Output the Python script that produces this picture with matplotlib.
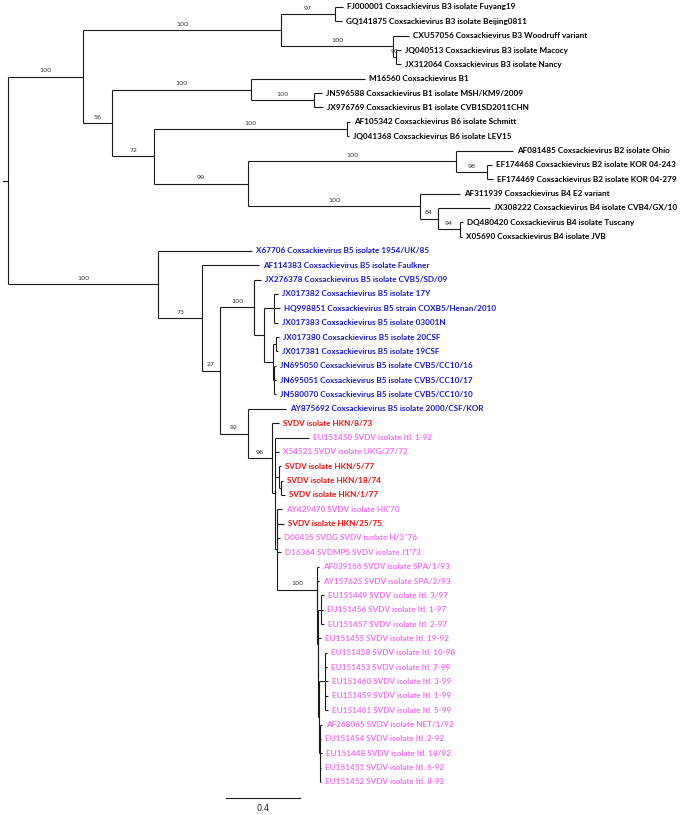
import re
import matplotlib
matplotlib.use("Agg")
import matplotlib.pyplot as plt

# ---------------- data ----------------
labels = [
    "FJ000001 Coxsackievirus B3 isolate Fuyang19",
    "GQ141875 Coxsackievirus B3 isolate Beijing0811",
    "CXU57056 Coxsackievirus B3 Woodruff variant",
    "JQ040513 Coxsackievirus B3 isolate Macocy",
    "JX312064 Coxsackievirus B3 isolate Nancy",
    "M16560 Coxsackievirus B1",
    "JN596588 Coxsackievirus B1 isolate MSH/KM9/2009",
    "JX976769 Coxsackievirus B1 isolate CVB1SD2011CHN",
    "AF105342 Coxsackievirus B6 isolate Schmitt",
    "JQ041368 Coxsackievirus B6 isolate LEV15",
    "AF081485 Coxsackievirus B2 isolate Ohio",
    "EF174468 Coxsackievirus B2 isolate KOR 04-243",
    "EF174469 Coxsackievirus B2 isolate KOR 04-279",
    "AF311939 Coxsackievirus B4 E2 variant",
    "JX308222 Coxsackievirus B4 isolate CVB4/GX/10",
    "DQ480420 Coxsackievirus B4 isolate Tuscany",
    "X05690 Coxsackievirus B4 isolate JVB",
    "X67706 Coxsackievirus B5 isolate 1954/UK/85",
    "AF114383 Coxsackievirus B5 isolate Faulkner",
    "JX276378 Coxsackievirus B5 isolate CVB5/SD/09",
    "JX017382 Coxsackievirus B5 isolate 17Y",
    "HQ998851 Coxsackievirus B5 strain COXB5/Henan/2010",
    "JX017383 Coxsackievirus B5 isolate 03001N",
    "JX017380 Coxsackievirus B5 isolate 20CSF",
    "JX017381 Coxsackievirus B5 isolate 19CSF",
    "JN695050 Coxsackievirus B5 isolate CVB5/CC10/16",
    "JN695051 Coxsackievirus B5 isolate CVB5/CC10/17",
    "JN580070 Coxsackievirus B5 isolate CVB5/CC10/10",
    "AY875692 Coxsackievirus B5 isolate 2000/CSF/KOR",
    "SVDV isolate HKN/8/73",
    "EU151450 SVDV isolate Itl. 1-92",
    "X54521 SVDV isolate UKG/27/72",
    "SVDV isolate HKN/5/77",
    "SVDV isolate HKN/18/74",
    "SVDV isolate HKN/1/77",
    "AY429470 SVDV isolate HK'70",
    "SVDV isolate HKN/25/75",
    "D00435 SVDG SVDV isolate H/3 '76",
    "D16364 SVDMPS SVDV isolate J1'73",
    "AF039166 SVDV isolate SPA/1/93",
    "AY157625 SVDV isolate SPA/2/93",
    "EU151449 SVDV isolate Itl. 3/97",
    "EU151456 SVDV isolate Itl. 1-97",
    "EU151457 SVDV isolate Itl. 2-97",
    "EU151455 SVDV isolate Itl. 19-92",
    "EU151458 SVDV isolate Itl. 10-98",
    "EU151453 SVDV isolate Itl. 7-99",
    "EU151460 SVDV isolate Itl. 3-99",
    "EU151459 SVDV isolate Itl. 1-99",
    "EU151461 SVDV isolate Itl. 5-99",
    "AF268065 SVDV isolate NET/1/92",
    "EU151454 SVDV isolate Itl. 2-92",
    "EU151448 SVDV isolate Itl. 18/92",
    "EU151451 SVDV isolate Itl. 6-92",
    "EU151452 SVDV isolate Itl. 8-92",
]
# k = other CVB, b = CVB5, r = SVDV HKN, p = other SVDV
groups = (["k"] * 17 + ["b"] * 12 + ["r", "p", "p", "r", "r", "r", "p", "r"]
          + ["p"] * 18)

# clades in Newick form (leaf names = index into labels, internal label = bootstrap)
clade_b3 = ("((0:0.0432,1:0.0378)97:0.2919,"
            "(2:0.0865,(3:0.027,4:0.027)91:0.0162)100:0.6054)100:1.0703")
clade_b1 = "(5:0.6162,(6:0.0432,7:0.0486)100:0.3405)100:0.7514"
clade_b6 = "(8:0.0162,9:0.0108)100:1.0432"
clade_b2 = "(10:0.3081,(11:0.027,12:0.0324)98:0.1676)100:1.1243"
clade_b4 = "(13:0.2162,(14:0.2811,(15:0.0162,16:0.0108)94:0.1189)84:0.0973)100:0.9297"
clade_b5 = ("(19:0.0378,((20:0.0216,21:0.0324,22:0.0216):0.0541,"
            "((23:0.0162,24:0.0108):0.0162,(25:0.0108,26:0.0108,27:0.0108):0.0054):0.0486)"
            ":0.0541)100:0.1838")
clade_spa_itl = ("(39:0.0108,(40:0.0081,((41:0.0162,42:0.0108,43:0.0162):0.0162,"
                 "(44:0.0135,((45:0.0108,46:0.0108,47:0.0162,48:0.0162,49:0.0162):0.0324,"
                 "(50:0.0108,51:0.0054,52:0.0108,53:0.0054,54:0.0054):0.0054):0.0027)"
                 ":0.0027):0.0027):0.0027)100:0.2162")
clade_svdv = ("(29:0.0378,(30:0.1838,31:0.0216,(32:0.0108,(33:0.0108,34:0.0216):0.0108):0.0216,"
              "(35:0.027,36:0.0378,37:0.0162,38:0.0216," + clade_spa_itl + "):0.0108)"
              ":0.0162)96:0.1297")

newick = ("((" + clade_b3 + ",(" + clade_b1 + ",(" + clade_b6 + ",(" + clade_b2 + ","
          + clade_b4 + ")99:0.5081)72:0.227)56:0.1568)100:0.4054,"
          "(17:0.5081,(18:0.3081,(" + clade_b5 + ",(28:0.2054," + clade_svdv
          + ")92:0.1514)27:0.0973)73:0.2378)100:0.8108);")

scale_len = 0.4
scale_label = "0.4"

# ---------------- styles ----------------
color_map = {"k": "#000000", "b": "#1A1ACC", "r": "#EE1111", "p": "#F070F0"}
line_color = "#1a1a1a"


def parse_newick(s):
    s = s.strip().rstrip(";")
    pos = 0

    def node():
        nonlocal pos
        n = {"children": [], "name": None, "bl": 0.0, "support": None}
        if s[pos] == "(":
            pos += 1
            while True:
                n["children"].append(node())
                if s[pos] == ",":
                    pos += 1
                    continue
                if s[pos] == ")":
                    pos += 1
                    break
        tok = re.match(r"[^:,();]*", s[pos:]).group(0)
        pos += len(tok)
        if n["children"]:
            n["support"] = tok or None
        else:
            n["name"] = tok
        if pos < len(s) and s[pos] == ":":
            pos += 1
            num = re.match(r"[0-9.eE+-]+", s[pos:]).group(0)
            n["bl"] = float(num)
            pos += len(num)
        return n

    return node()


tree = parse_newick(newick)

leaf_counter = [0]


def layout(n, px):
    n["x"] = px + n["bl"]
    n["px"] = px
    if not n["children"]:
        n["y"] = leaf_counter[0]
        leaf_counter[0] += 1
    else:
        for c in n["children"]:
            layout(c, n["x"])
        n["y"] = (n["children"][0]["y"] + n["children"][-1]["y"]) / 2.0


layout(tree, 0.0)

# ---------------- figure ----------------
W, H = 685, 815
fig = plt.figure(figsize=(W / 100, H / 100), dpi=100)
ax = fig.add_axes([0, 0, 1, 1])
ax.set_axis_off()

unit_px = 185.0      # pixels per substitution unit
root_px = 8.0
row_px = 14.35
top_px = 7.0
ax.set_xlim(-root_px / unit_px, (W - root_px) / unit_px)
ax.set_ylim((H - top_px) / row_px, -top_px / row_px)

lw = 0.8


def draw(n, is_root=False):
    if not is_root:
        ax.plot([n["px"], n["x"]], [n["y"], n["y"]], color=line_color, lw=lw,
                solid_capstyle="butt")
    if n["children"]:
        ax.plot([n["x"], n["x"]], [n["children"][0]["y"], n["children"][-1]["y"]],
                color=line_color, lw=lw, solid_capstyle="butt")
        if n["support"] and not is_root:
            ax.annotate(n["support"], xy=((n["px"] + n["x"]) / 2.0, n["y"]),
                        xytext=(0, 4.2), textcoords="offset points",
                        ha="center", va="center", fontsize=4.6,
                        color="#333333", family="DejaVu Sans")
        for c in n["children"]:
            draw(c)
    else:
        i = int(n["name"])
        ax.annotate(labels[i], xy=(n["x"], n["y"]), xytext=(3.0, 0),
                    textcoords="offset points", ha="left", va="center",
                    fontsize=5.9, fontweight="bold", family="Lato",
                    color=color_map[groups[i]])


draw(tree, is_root=True)
# root stub
ax.plot([-5 / unit_px, 0], [tree["y"], tree["y"]], color=line_color, lw=lw)

# scale bar
sb_x0 = (226 - root_px) / unit_px
sb_y = (798 - top_px) / row_px
ax.plot([sb_x0, sb_x0 + scale_len], [sb_y, sb_y], color=line_color, lw=lw)
ax.text(sb_x0 + scale_len / 2, (808 - top_px) / row_px, scale_label,
        ha="center", va="center", fontsize=6, color="#222222", family="DejaVu Sans")

fig.savefig("out.png", dpi=100)
